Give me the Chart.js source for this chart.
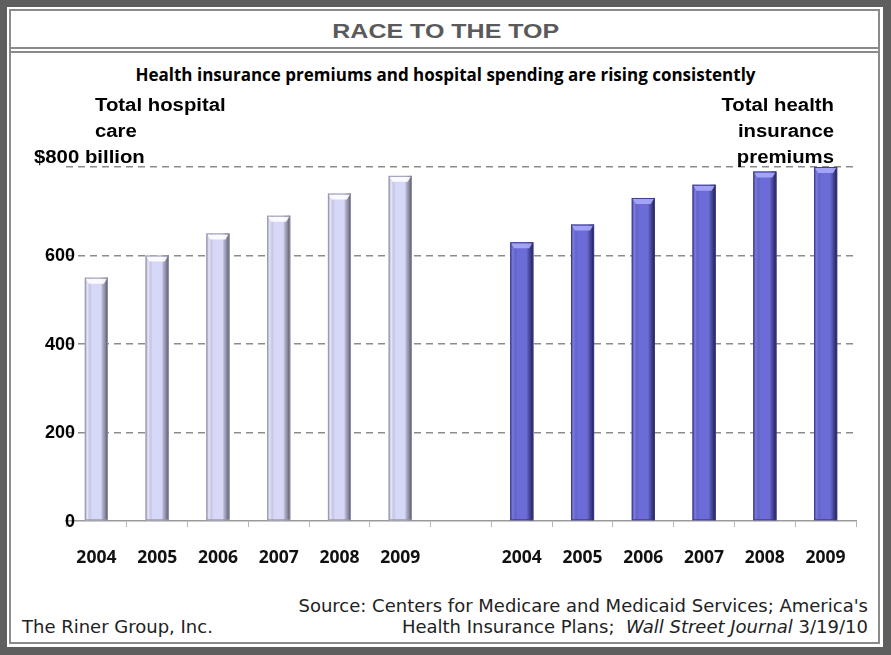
<!DOCTYPE html>
<html>
<head>
<meta charset="utf-8">
<script src="https://cdn.jsdelivr.net/npm/chart.js@4.4.0/dist/chart.umd.min.js"></script>
<style>
  html, body { margin: 0; padding: 0; background: #fff; }
  #page { position: relative; width: 891px; height: 655px; overflow: hidden; background: #fff; }
  #outer { position: absolute; left: 0; top: 0; width: 891px; height: 655px; box-sizing: border-box;
           border-style: solid; border-color: #5e5e5e; border-width: 7px 8px 8px 7px; }
  #inner { position: absolute; left: 9px; top: 9px; right: 11px; bottom: 11px; border: 2px solid #8a8a8a; }
  .txt { position: absolute; white-space: nowrap; }
  #head { left: 0; width: 891px; top: 20px; text-align: center; font: bold 20px "Liberation Sans", Arial, sans-serif; color: #5a5a5a; }
  #head span { display: inline-block; transform: scaleX(1.25); }
  #rule1 { position: absolute; left: 11px; right: 13px; top: 47px; height: 2px; background: #8a8a8a; }
  #rule2 { position: absolute; left: 11px; right: 13px; top: 51px; height: 2px; background: #8a8a8a; }
  #sub { left: 0; width: 891px; top: 63px; text-align: center; font: bold 17px "Open Sans", sans-serif; color: #000; }
  #riner { left: 22px; top: 616px; font: 18px "DejaVu Sans", sans-serif; color: #222; }
  .src { right: 23px; font: 18px "DejaVu Sans", sans-serif; color: #222; text-align: right; }
  #src1 { top: 595px; }
  #src2 { top: 616px; }
  canvas { position: absolute; left: 0; top: 0; }
</style>
</head>
<body>
<div id="page">
  <div id="outer"></div>
  <div id="inner"></div>
  <div class="txt" id="head"><span>RACE TO THE TOP</span></div>
  <div id="rule1"></div>
  <div id="rule2"></div>
  <div class="txt" id="sub">Health insurance premiums and hospital spending are rising consistently</div>
  <div class="txt" id="riner">The Riner Group, Inc.</div>
  <div class="txt src" id="src1">Source: Centers for Medicare and Medicaid Services; America's</div>
  <div class="txt src" id="src2">Health Insurance Plans;&nbsp; <i>Wall Street Journal</i> 3/19/10</div>
  <canvas id="chart" width="891" height="655"></canvas>
</div>
<script>
// values in $ billion
const years = ["2004", "2005", "2006", "2007", "2008", "2009"];
const hospitalCare = [550, 600, 650, 690, 740, 780];
const premiums = [630, 670, 730, 760, 790, 800];
const yTicks = [0, 200, 400, 600, 800];

const leftColor = "#d7d7f7";
const rightColor = "#6c6cd9";

// one row of categories with an empty slot between the two groups
const labels = [...years, "", ...years];
const values = [...hospitalCare, null, ...premiums];
const colors = [...years.map(() => leftColor), "rgba(0,0,0,0)", ...years.map(() => rightColor)];

// bevel look of the original bars
const bevel = {
    id: "bevel",
    afterDatasetsDraw(chart) {
        const ctx = chart.ctx;
        const meta = chart.getDatasetMeta(0);
        meta.data.forEach((bar, i) => {
            if (values[i] == null) return;
            const dark = i > years.length;
            const l = bar.x - bar.width / 2, r = bar.x + bar.width / 2;
            const top = bar.y, bot = bar.base, w = bar.width;
            ctx.save();
            const g = ctx.createLinearGradient(l, 0, r, 0);
            if (dark) {
                g.addColorStop(0, "rgba(40,40,110,0.55)");
                g.addColorStop(0.12, "rgba(150,150,240,0.35)");
                g.addColorStop(0.3, "rgba(0,0,0,0)");
                g.addColorStop(0.7, "rgba(0,0,0,0)");
                g.addColorStop(0.85, "rgba(20,20,70,0.45)");
                g.addColorStop(1, "rgba(10,10,40,0.85)");
            } else {
                g.addColorStop(0, "rgba(110,110,140,0.6)");
                g.addColorStop(0.12, "rgba(255,255,255,0.3)");
                g.addColorStop(0.3, "rgba(0,0,0,0)");
                g.addColorStop(0.7, "rgba(0,0,0,0)");
                g.addColorStop(0.85, "rgba(70,70,90,0.45)");
                g.addColorStop(1, "rgba(50,50,60,0.85)");
            }
            ctx.fillStyle = g;
            ctx.fillRect(l, top, w, bot - top);
            // top cap
            ctx.fillStyle = dark ? "rgba(170,170,250,0.9)" : "rgba(255,255,255,0.9)";
            ctx.beginPath();
            ctx.moveTo(l + 1, top + 1);
            ctx.lineTo(r - 1, top + 1);
            ctx.lineTo(r - 4, top + 6);
            ctx.lineTo(l + 4, top + 6);
            ctx.closePath();
            ctx.fill();
            ctx.strokeStyle = dark ? "rgba(60,60,140,0.9)" : "rgba(150,150,175,0.9)";
            ctx.lineWidth = 1;
            ctx.strokeRect(l + 0.5, top + 0.5, w - 1, bot - top - 1);
            ctx.restore();
        });
    }
};

// y labels (they overlap the plot a little), side titles and the $800 billion tick
const notes = {
    id: "notes",
    afterDraw(chart) {
        const ctx = chart.ctx;
        const ys = chart.scales.y;
        const y800 = ys.getPixelForValue(800);
        const put = (s, x, y, align) => {
            ctx.save();
            ctx.translate(x, y);
            ctx.scale(1.13, 1);
            ctx.textAlign = align;
            ctx.textBaseline = "alphabetic";
            ctx.fillText(s, 0, 0);
            ctx.restore();
        };
        ctx.save();
        ctx.fillStyle = "#000";
        ctx.font = "bold 18px 'Liberation Sans', Arial, sans-serif";
        ys.ticks.forEach(t => {
            if (t.value === 800) return;
            ctx.textAlign = "right";
            ctx.textBaseline = "middle";
            ctx.fillText(String(t.value), chart.chartArea.left + 9, ys.getPixelForValue(t.value) + 1);
        });
        put("Total hospital", 95, y800 - 56, "left");
        put("care", 95, y800 - 30, "left");
        put("$800 billion", 34, y800 - 4, "left");
        put("Total health", 834, y800 - 56, "right");
        put("insurance", 834, y800 - 30, "right");
        put("premiums", 834, y800 - 4, "right");
        ctx.restore();
    }
};

new Chart(document.getElementById("chart"), {
    type: "bar",
    data: {
        labels: labels,
        datasets: [{
            data: values,
            backgroundColor: colors,
            borderWidth: 0,
            barPercentage: 0.38,
            categoryPercentage: 1
        }]
    },
    options: {
        responsive: false,
        animation: false,
        devicePixelRatio: 1,
        layout: { padding: { top: 167, right: 35, bottom: 0, left: 0 } },
        plugins: { legend: { display: false }, tooltip: { enabled: false } },
        scales: {
            x: {
                afterFit(s) { s.height = 134; },
                grid: { offset: true, drawOnChartArea: false, drawTicks: true, tickLength: 6, color: "#b5b5b5", lineWidth: 1 },
                border: { display: true, color: "#9a9a9a", width: 1.5 },
                ticks: {
                    autoSkip: false, maxRotation: 0, padding: 21, color: "#111",
                    font: { family: "'Open Sans', sans-serif", weight: "bold", size: 17.5 }
                }
            },
            y: {
                min: 0,
                max: 800,
                afterFit(s) { s.width = 66; },
                afterBuildTicks(s) { s.ticks = yTicks.map(v => ({ value: v })); },
                grid: {
                    drawTicks: false, lineWidth: 1.5,
                    color: c => c.tick && c.tick.value === 0 ? "rgba(0,0,0,0)" : "#8c8c8c"
                },
                border: { display: false, dash: [7, 5] },
                ticks: { display: false }
            }
        }
    },
    plugins: [bevel, notes]
});
</script>
</body>
</html>
